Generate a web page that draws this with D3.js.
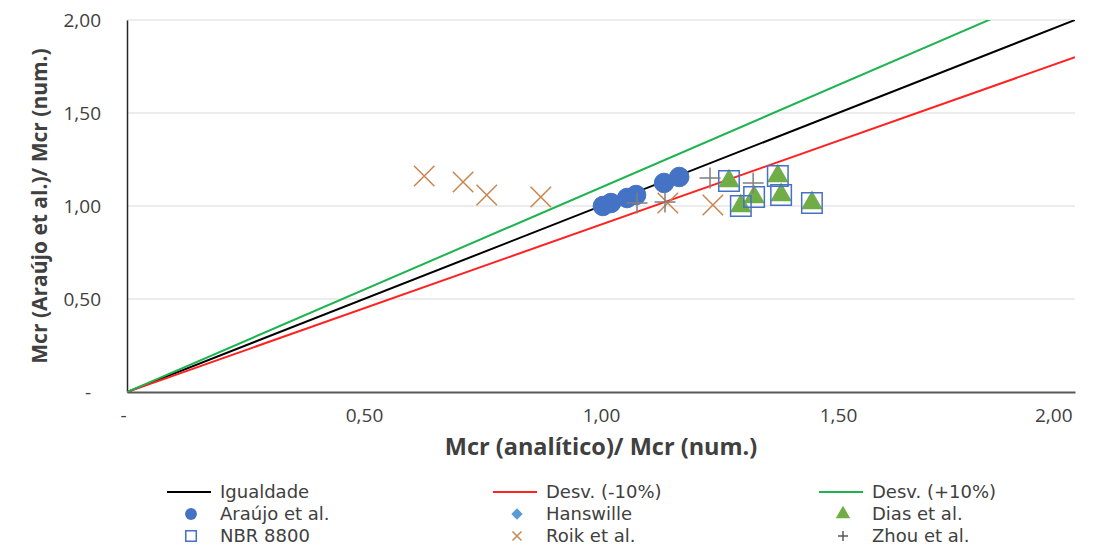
<!DOCTYPE html>
<html>
<head>
<meta charset="utf-8">
<script src="https://cdn.jsdelivr.net/npm/d3@7"></script>
<style>
  body { margin: 0; background: #fff; }
  text { font-family: "Open Sans", Lato, sans-serif; fill: #404040; }
</style>
</head>
<body>
<div id="chart"></div>
<script>
// reference lines (x from 0 to 2)
var lineX = [0, 2];
var igualdade = [0, 2];
var desvMenos = [0, 1.8];
var desvMais = [0, 2.2];

// series points [x, y]
var araujo = [[1.004, 1.000], [1.021, 1.016], [1.055, 1.043], [1.074, 1.059], [1.133, 1.124], [1.165, 1.156]];
var hanswille = [[1.270, 1.134], [1.295, 1.000], [1.323, 1.048], [1.373, 1.161], [1.380, 1.059], [1.445, 1.016]];
var dias = [[1.270, 1.134], [1.295, 1.000], [1.323, 1.048], [1.373, 1.161], [1.380, 1.059], [1.445, 1.016]];
var nbr = [[1.270, 1.134], [1.295, 1.000], [1.323, 1.048], [1.373, 1.161], [1.380, 1.059], [1.445, 1.016]];
var roik = [[0.627, 1.161], [0.709, 1.129], [0.759, 1.059], [0.873, 1.048], [1.141, 1.016], [1.236, 1.005]];
var zhou = [[1.076, 1.016], [1.135, 1.022], [1.230, 1.151], [1.321, 1.124]];

var xTicks = [0, 0.5, 1, 1.5, 2];
var yTicks = [0, 0.5, 1, 1.5, 2];

var margin = { top: 20, right: 27, bottom: 155, left: 127 },
  width = 1102 - margin.left - margin.right,
  height = 547 - margin.top - margin.bottom;

var svg = d3.select("#chart")
  .append("svg")
  .attr("width", 1102)
  .attr("height", 547);

var g = svg.append("g")
  .attr("transform", "translate(" + margin.left + "," + margin.top + ")");

var x = d3.scaleLinear().domain([0, 2]).range([0, width]);
var y = d3.scaleLinear().domain([0, 2]).range([height, 0]);

var fmt = function (d) { return d === 0 ? "-" : d3.format(".2f")(d).replace(".", ","); };

g.append("defs").append("clipPath").attr("id", "plot")
  .append("rect").attr("width", width).attr("height", height);

// gridlines
g.append("g")
  .selectAll("line")
  .data(yTicks.filter(function (d) { return d > 0; }))
  .enter()
  .append("line")
  .attr("x1", 0).attr("x2", width)
  .attr("y1", function (d) { return y(d); })
  .attr("y2", function (d) { return y(d); })
  .attr("stroke", "#d9d9d9")
  .attr("stroke-width", 1);

// y axis
var yAxis = g.append("g")
  .call(d3.axisLeft(y).tickValues(yTicks).tickFormat(fmt).tickSize(0).tickPadding(26));
yAxis.select(".domain").attr("stroke", "#262626").attr("stroke-width", 1.5);
yAxis.selectAll("text").style("font-size", "19px").attr("fill", "#595959");
yAxis.selectAll(".tick").filter(function (d) { return d === 0; })
  .select("text").attr("dx", "-10");

// x axis
var xAxis = g.append("g")
  .attr("transform", "translate(0," + height + ")")
  .call(d3.axisBottom(x).tickValues(xTicks).tickFormat(fmt).tickSize(0).tickPadding(17));
xAxis.select(".domain").attr("stroke", "#595959").attr("stroke-width", 2);
xAxis.selectAll("text").style("font-size", "19px").attr("fill", "#595959");
xAxis.selectAll(".tick").filter(function (d) { return d === 2; })
  .select("text").attr("text-anchor", "end").attr("dx", "-3");
xAxis.selectAll(".tick").filter(function (d) { return d === 0; })
  .select("text").attr("dx", "-4");

// axis titles
svg.append("text")
  .attr("x", margin.left + width / 2)
  .attr("y", 455)
  .attr("text-anchor", "middle")
  .style("font-size", "23.5px")
  .style("font-weight", "bold")
  .attr("fill", "#262626")
  .text("Mcr (analítico)/ Mcr (num.)");

svg.append("text")
  .attr("transform", "rotate(-90)")
  .attr("x", -(margin.top + height / 2))
  .attr("y", 47)
  .attr("text-anchor", "middle")
  .style("font-size", "21px")
  .style("font-weight", "bold")
  .attr("fill", "#262626")
  .text("Mcr (Araújo et al.)/ Mcr (num.)");

// reference lines
var plot = g.append("g").attr("clip-path", "url(#plot)");
var refLines = [
  { ys: igualdade, color: "#000000" },
  { ys: desvMenos, color: "#ff2020" },
  { ys: desvMais, color: "#1db34f" }
];
refLines.forEach(function (s) {
  plot.append("path")
    .datum(lineX.map(function (v, i) { return [v, s.ys[i]]; }))
    .attr("fill", "none")
    .attr("stroke", s.color)
    .attr("stroke-width", 2)
    .attr("d", d3.line().x(function (d) { return x(d[0]); }).y(function (d) { return y(d[1]); }));
});

var crossX = { draw: function (ctx, size) { var r = Math.sqrt(size) / 2; ctx.moveTo(-r, -r); ctx.lineTo(r, r); ctx.moveTo(r, -r); ctx.lineTo(-r, r); } };
var plus = { draw: function (ctx, size) { var r = Math.sqrt(size) / 2; ctx.moveTo(-r, 0); ctx.lineTo(r, 0); ctx.moveTo(0, -r); ctx.lineTo(0, r); } };
var rhombus = { draw: function (ctx, size) { var r = Math.sqrt(size) / 2; ctx.moveTo(0, -r); ctx.lineTo(r, 0); ctx.lineTo(0, r); ctx.lineTo(-r, 0); ctx.closePath(); } };

function markers(data, type, size, fill, stroke, sw) {
  plot.append("g")
    .selectAll("path")
    .data(data)
    .enter()
    .append("path")
    .attr("transform", function (d) { return "translate(" + x(d[0]) + "," + y(d[1]) + ")"; })
    .attr("d", d3.symbol().type(type).size(size))
    .attr("fill", fill)
    .attr("stroke", stroke)
    .attr("stroke-width", sw);
}

markers(araujo, d3.symbolCircle, 300, "#4472c4", "#4472c4", 1);
markers(hanswille, rhombus, 100, "#5b9bd5", "none", 0);
markers(dias, d3.symbolTriangle, 200, "#70ad47", "none", 0);
markers(nbr, d3.symbolSquare, 420, "none", "#4472c4", 1.5);
markers(roik, crossX, 420, "none", "#c8864e", 1.5);
markers(zhou, plus, 440, "none", "#7f7f7f", 1.5);

// legend
var legend = [
  { name: "Igualdade", kind: "line", color: "#000000" },
  { name: "Desv. (-10%)", kind: "line", color: "#ff2020" },
  { name: "Desv. (+10%)", kind: "line", color: "#1db34f" },
  { name: "Araújo et al.", kind: "sym", type: d3.symbolCircle, size: 110, fill: "#4472c4", stroke: "none" },
  { name: "Hanswille", kind: "sym", type: rhombus, size: 130, fill: "#5b9bd5", stroke: "none" },
  { name: "Dias et al.", kind: "sym", type: d3.symbolTriangle, size: 90, fill: "#70ad47", stroke: "none" },
  { name: "NBR 8800", kind: "sym", type: d3.symbolSquare, size: 110, fill: "none", stroke: "#4472c4" },
  { name: "Roik et al.", kind: "sym", type: crossX, size: 80, fill: "none", stroke: "#c8864e" },
  { name: "Zhou et al.", kind: "sym", type: plus, size: 100, fill: "none", stroke: "#595959" }
];

var leg = svg.append("g").selectAll("g")
  .data(legend)
  .enter()
  .append("g")
  .attr("transform", function (d, i) { return "translate(" + (167 + (i % 3) * 326) + "," + (492 + Math.floor(i / 3) * 22) + ")"; });

leg.filter(function (d) { return d.kind === "line"; })
  .append("line")
  .attr("x1", 0).attr("x2", 44)
  .attr("stroke", function (d) { return d.color; })
  .attr("stroke-width", 2);

leg.filter(function (d) { return d.kind === "sym"; })
  .append("path")
  .attr("transform", "translate(24,0)")
  .attr("d", function (d) { return d3.symbol().type(d.type).size(d.size)(); })
  .attr("fill", function (d) { return d.fill; })
  .attr("stroke", function (d) { return d.stroke; })
  .attr("stroke-width", 1.5);

leg.append("text")
  .attr("x", 53)
  .attr("dy", "0.35em")
  .style("font-family", "'DejaVu Sans', sans-serif")
  .style("font-size", "18px")
  .attr("fill", "#404040")
  .text(function (d) { return d.name; });
</script>
</body>
</html>
